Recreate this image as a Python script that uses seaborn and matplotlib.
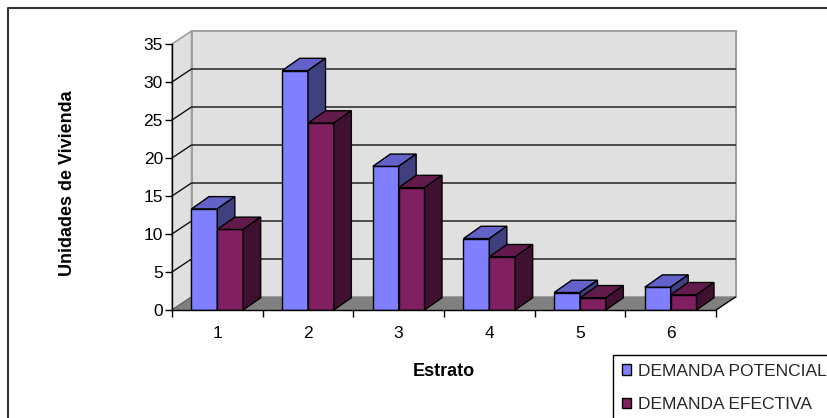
import matplotlib
matplotlib.use('Agg')
import matplotlib.pyplot as plt
import matplotlib.transforms as mtransforms
from matplotlib.patches import Polygon, Patch
from matplotlib.lines import Line2D
import seaborn as sns
import pandas as pd
import numpy as np

# ---- data ----
estratos = ['1', '2', '3', '4', '5', '6']
demanda_potencial = [13.3, 31.5, 18.9, 9.4, 2.3, 3.0]
demanda_efectiva = [10.6, 24.6, 16.1, 7.0, 1.6, 2.0]
series = ['DEMANDA POTENCIAL', 'DEMANDA EFECTIVA']
y_ticks = [0, 5, 10, 15, 20, 25, 30, 35]
x_title = 'Estrato'
y_title = 'Unidades de Vivienda'

# ---- style ----
front_colors = ['#8080FF', '#802060']
top_colors = ['#6262C8', '#621A4C']
side_colors = ['#404080', '#401030']
wall_color = '#E0E0E0'
wall_edge = '#A0A0A0'
floor_color = '#808080'

sns.set_theme(style='white')
plt.rcParams['font.family'] = ['Liberation Sans', 'DejaVu Sans']

W, H = 827, 418
fig = plt.figure(figsize=(W / 100, H / 100), dpi=100)
fig.patch.set_facecolor('white')
ax = fig.add_axes([172 / W, 1 - 310 / H, 544 / W, 266 / H])
ax.patch.set_visible(False)

df = pd.DataFrame({
    'Estrato': estratos * 2,
    'Valor': demanda_potencial + demanda_efectiva,
    'Serie': [series[0]] * len(estratos) + [series[1]] * len(estratos),
})

sns.barplot(data=df, x='Estrato', y='Valor', hue='Serie', order=estratos,
            hue_order=series, palette=front_colors, width=0.57, saturation=1,
            edgecolor='black', linewidth=1, errorbar=None, legend=False, ax=ax)

ax.set_xlim(-0.5, len(estratos) - 0.5)
ax.set_ylim(0, 35)

ident = mtransforms.IdentityTransform()
DX, DY = 19.5, 13   # wall depth in pixels
BDX, BDY = 17.5, 12.3  # bar depth in pixels

def disp(x, y, trans):
    return trans.transform((x, y))

# walls and floor
fl = disp(0, 0, ax.transAxes)
fr = disp(1, 0, ax.transAxes)
tl = disp(0, 1, ax.transAxes)
tr = disp(1, 1, ax.transAxes)
off = np.array([DX, DY])

back_wall = Polygon([fl + off, fr + off, tr + off, tl + off], closed=True,
                    facecolor=wall_color, edgecolor=wall_edge, lw=1.5,
                    transform=ident, zorder=0.2, clip_on=False)
left_wall = Polygon([fl, fl + off, tl + off, tl], closed=True,
                    facecolor=wall_color, edgecolor=wall_edge, lw=1.2,
                    transform=ident, zorder=0.2, clip_on=False)
floor = Polygon([fl, fr, fr + off, fl + off], closed=True,
                facecolor=floor_color, edgecolor='none',
                transform=ident, zorder=0.3, clip_on=False)
for p in (back_wall, left_wall, floor):
    ax.add_patch(p)

# gridlines on walls
for v in y_ticks[1:-1]:
    a = ax.transData.transform((ax.get_xlim()[0], v))
    b = ax.transData.transform((ax.get_xlim()[1], v))
    ax.add_line(Line2D([a[0], a[0] + DX, b[0] + DX], [a[1], a[1] + DY, b[1] + DY],
                       color='#111111', lw=1.0, transform=ident, zorder=0.5,
                       clip_on=False))
# floor edges
ax.add_line(Line2D([fl[0], fl[0] + DX], [fl[1], fl[1] + DY], color='#666666', lw=1,
                   transform=ident, zorder=0.5, clip_on=False))
ax.add_line(Line2D([fr[0], fr[0] + DX], [fr[1], fr[1] + DY], color='black', lw=1,
                   transform=ident, zorder=0.5, clip_on=False))

# 3D faces of bars
bars = [p for p in ax.patches if getattr(p, 'get_width', None) and p.get_height() > 0
        and p not in (back_wall, left_wall, floor)]
bars.sort(key=lambda p: p.get_x())
n = len(estratos)
for i, p in enumerate(bars):
    fc = p.get_facecolor()
    s = 0 if np.allclose(fc[:3], matplotlib.colors.to_rgb(front_colors[0]), atol=0.02) else 1
    x0, y0 = ax.transData.transform((p.get_x(), p.get_y()))
    x1, y1 = ax.transData.transform((p.get_x() + p.get_width(), p.get_y() + p.get_height()))
    z = 2 + i * 0.1
    p.set_zorder(z)
    top = Polygon([(x0, y1), (x1, y1), (x1 + BDX, y1 + BDY), (x0 + BDX, y1 + BDY)],
                  closed=True, facecolor=top_colors[s], edgecolor='black', lw=1,
                  transform=ident, zorder=z + 0.01, clip_on=False)
    side = Polygon([(x1, y0), (x1 + BDX, y0 + BDY), (x1 + BDX, y1 + BDY), (x1, y1)],
                   closed=True, facecolor=side_colors[s], edgecolor='black', lw=1,
                   transform=ident, zorder=z + 0.02, clip_on=False)
    ax.add_patch(top)
    ax.add_patch(side)

# axes styling
for sp in ('top', 'right'):
    ax.spines[sp].set_visible(False)
for sp in ('left', 'bottom'):
    ax.spines[sp].set_color('black')
    ax.spines[sp].set_linewidth(1)
    ax.spines[sp].set_zorder(5)

ax.set_yticks(y_ticks)
ax.set_yticklabels([str(v) for v in y_ticks])
ax.tick_params(axis='y', which='major', length=5, width=1, color='black',
               direction='out', left=True, labelsize=12.5, pad=1.5, labelcolor='black')
ax.set_xticks(range(n))
ax.set_xticklabels(estratos)
ax.set_xticks(np.arange(-0.5, n, 1.0), minor=True)
ax.tick_params(axis='x', which='major', length=0, labelsize=12.5, pad=11.5, labelcolor='black')
ax.tick_params(axis='x', which='minor', length=5, width=1, color='black',
               direction='out', bottom=True)

ax.set_xlabel(x_title, fontsize=13, fontweight='bold', color='black')
ax.xaxis.set_label_coords((444 - 172) / 544, (310 - 372) / 266)
ax.xaxis.label.set_va('center')
ax.set_ylabel(y_title, fontsize=13, fontweight='bold', color='black')
ax.yaxis.set_label_coords((68 - 172) / 544, (310 - 183) / 266)
ax.yaxis.label.set_va('center')

# legend
handles = [Patch(facecolor=front_colors[k], edgecolor='black', lw=1) for k in range(2)]
leg = fig.legend(handles, series, loc='upper left',
                 bbox_to_anchor=(613 / W, 1 - 355 / H), frameon=True, fancybox=False,
                 fontsize=12.5, handlelength=0.55, handleheight=0.55, handletextpad=0.4,
                 borderpad=0.5, labelspacing=1.05, borderaxespad=0, framealpha=1)
leg.get_frame().set_edgecolor('black')
leg.get_frame().set_linewidth(1)

# chart area border (left and top visible)
fig.add_artist(Line2D([8 / W, 8 / W, 1], [0, 1 - 7.5 / H, 1 - 7.5 / H],
                      transform=fig.transFigure, color='#333333', lw=1.5))

fig.savefig('out.png', dpi=100)
